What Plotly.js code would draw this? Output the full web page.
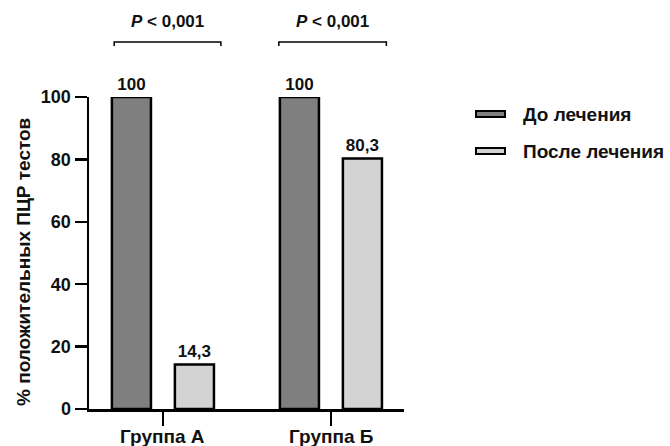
<!DOCTYPE html>
<html>
<head>
<meta charset="utf-8">
<script src="https://cdn.plot.ly/plotly-3.0.1.min.js"></script>
<style>html,body{margin:0;padding:0;background:#fff;}#chart{width:670px;height:446px;}</style>
</head>
<body>
<div id="chart"></div>
<script>
const categories = ['Группа А', 'Группа Б'];
const seriesNames = ['До лечения', 'После лечения'];
const beforeValues = [100, 100];
const afterValues = [14.3, 80.3];
const pLabels = ['<i>P</i> < 0,001', '<i>P</i> < 0,001'];
const yTicks = [0, 20, 40, 60, 80, 100];
const yTitle = '% положительных ПЦР тестов';

const FONT = 'Liberation Sans, Arial, sans-serif';
const TXT = '#111';
const colors = ['#7f7f7f', '#d3d3d3'];
const fmt = v => String(v).replace('.', ',');
const py = p => (409 - p) / 312;   // pixel row -> paper y
const px = p => (p - 89) / 315;    // pixel col -> paper x

const traces = [beforeValues, afterValues].map((vals, i) => ({
  type: 'bar',
  name: seriesNames[i],
  x: categories,
  y: vals,
  text: vals.map(fmt),
  textposition: 'outside',
  cliponaxis: false,
  textfont: {family: FONT, size: 17, color: TXT, weight: 'bold'},
  marker: {color: colors[i], line: {color: '#000', width: 2.5}},
  hoverinfo: 'skip'
}));

const shapes = [];
const annotations = [];
// significance brackets, spanning each group's pair of bars
const bracketSpans = [[-0.29, 0.345], [0.69, 1.33]];
bracketSpans.forEach((s, i) => {
  shapes.push({type: 'path', xref: 'x', yref: 'paper',
    path: `M ${s[0]} ${py(46)} L ${s[0]} ${py(42)} L ${s[1]} ${py(42)} L ${s[1]} ${py(46)}`,
    line: {color: '#000', width: 1.5}});
  annotations.push({xref: 'x', yref: 'paper', x: (s[0] + s[1]) / 2, y: py(22),
    text: pLabels[i], showarrow: false, yanchor: 'middle',
    font: {family: FONT, size: 17, color: TXT, weight: 'bold'}});
});
// category labels under the ticks
categories.forEach(c => {
  annotations.push({xref: 'x', yref: 'paper', x: c, y: py(424),
    yanchor: 'top', text: c, showarrow: false,
    font: {family: FONT, size: 19, color: TXT, weight: 'bold'}});
});
// y axis title
annotations.push({xref: 'paper', yref: 'paper', x: px(23), y: py(262),
  xanchor: 'center', yanchor: 'middle', textangle: -90, text: yTitle,
  showarrow: false, font: {family: FONT, size: 19, color: TXT, weight: 'bold'}});
// custom legend (wide flat rectangles)
seriesNames.forEach((n, i) => {
  const yc = py([114, 151][i]);
  shapes.push({type: 'rect', xref: 'paper', yref: 'paper',
    x0: px(476), x1: px(505),
    y0: yc - 3 / 312, y1: yc + 3 / 312,
    fillcolor: colors[i], line: {color: '#000', width: 2}});
  annotations.push({xref: 'paper', yref: 'paper', x: px(521), y: yc,
    xanchor: 'left', yanchor: 'middle', text: n, showarrow: false,
    font: {family: FONT, size: 19, color: TXT, weight: 'bold'}});
});

const layout = {
  width: 670, height: 446,
  margin: {l: 89, r: 266, t: 97, b: 37, pad: 0},
  paper_bgcolor: '#fff', plot_bgcolor: '#fff',
  showlegend: false,
  barmode: 'group',
  bargap: 0.25,
  bargroupgap: 0.38,
  font: {family: FONT, size: 18, color: TXT, weight: 'bold'},
  xaxis: {
    type: 'category',
    range: [-0.44, 1.435],
    showline: true, linecolor: '#000', linewidth: 2.5,
    ticks: 'outside', ticklen: 14, tickwidth: 2.5, tickcolor: '#000',
    showgrid: false, zeroline: false, showticklabels: false
  },
  yaxis: {
    range: [0, 100],
    tickvals: yTicks,
    showline: true, linecolor: '#000', linewidth: 2.5,
    ticks: 'outside', ticklen: 12, tickwidth: 2.5, tickcolor: '#000',
    showgrid: false, zeroline: false,
    tickfont: {family: FONT, size: 18, color: TXT, weight: 'bold'}
  },
  shapes: shapes,
  annotations: annotations
};

Plotly.newPlot('chart', traces, layout, {staticPlot: true, displayModeBar: false});
</script>
</body>
</html>
